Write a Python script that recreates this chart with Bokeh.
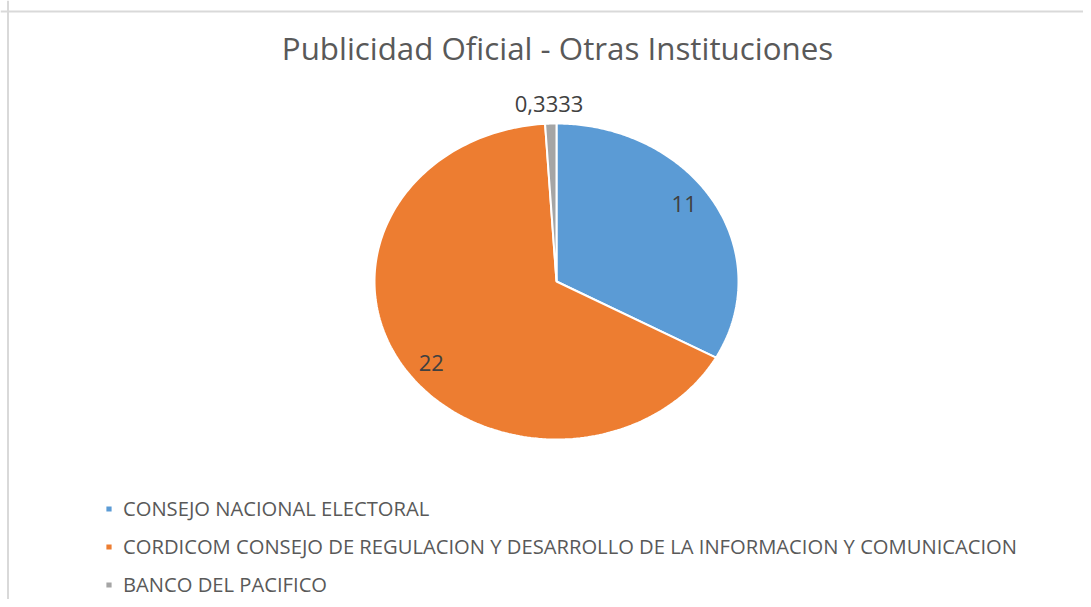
import numpy as np
from bokeh.plotting import figure
from bokeh.models import Range1d, ColumnDataSource, Label, Legend, LegendItem, Span
from bokeh.core.properties import value
from bokeh.embed import file_html
from bokeh.resources import INLINE

title_text = "Publicidad Oficial - Otras Instituciones"
categories = [
    "CONSEJO NACIONAL ELECTORAL",
    "CORDICOM CONSEJO DE REGULACION Y DESARROLLO DE LA INFORMACION Y COMUNICACION",
    "BANCO DEL PACIFICO",
]
values = [11, 22, 0.3333]
value_labels = ["11", "22", "0,3333"]
colors = ["#5B9BD5", "#ED7D31", "#A5A5A5"]

FONT = "Open Sans"
W, H = 1083, 599
p = figure(width=W, height=H, output_backend="svg", toolbar_location=None,
           x_range=Range1d(0, W), y_range=Range1d(H, 0),
           x_axis_type=None, y_axis_type=None, min_border=0)
p.grid.visible = False
p.outline_line_color = None
p.background_fill_color = "white"

# chart-area border (left and top visible in the reference)
p.add_layout(Span(location=7.5, dimension="height", line_color="#d9d9d9", line_width=2))
p.add_layout(Span(location=11, dimension="width", line_color="#d9d9d9", line_width=2))

# elliptical pie geometry
cx, cy, rx, ry = 556, 281, 182, 158
vals = np.array(values, dtype=float)
frac = vals / vals.sum()
ends = np.cumsum(frac) * 2 * np.pi
starts = ends - frac * 2 * np.pi
xs, ys = [], []
for a0, a1 in zip(starts, ends):
    t = np.linspace(a0, a1, 200)
    xs.append(np.concatenate([[cx], cx + rx * np.sin(t), [cx]]).tolist())
    ys.append(np.concatenate([[cy], cy - ry * np.cos(t), [cy]]).tolist())

src = ColumnDataSource(dict(xs=xs, ys=ys, color=colors, name=categories))
r = p.patches("xs", "ys", source=src, fill_color="color", line_color="white", line_width=2)

# data labels
mids = (starts + ends) / 2
outside = frac < 0.05
fx = np.where(outside, 1.3, 0.815)
fy = np.where(outside, 1.127, 0.965)
lx = cx + fx * rx * np.sin(mids)
ly = cy - fy * ry * np.cos(mids)
lsrc = ColumnDataSource(dict(x=lx, y=ly, t=value_labels))
p.text("x", "y", text="t", source=lsrc, text_align="center", text_baseline="middle",
       text_font=value(FONT), text_font_size="22px", text_color="#404040")

# title
p.add_layout(Label(x=557, y=47, text=title_text, text_align="center", text_baseline="middle",
                   text_font=FONT, text_font_size="31.3px", text_color="#595959"))

legend = Legend(items=[LegendItem(label=c, renderers=[r], index=i) for i, c in enumerate(categories)],
                location=(104, 1), orientation="vertical", padding=0, margin=0,
                border_line_color=None, background_fill_alpha=0,
                glyph_width=9, glyph_height=9, label_standoff=10, label_height=22, spacing=10,
                label_text_font=FONT, label_text_font_size="20.2px", label_text_color="#595959")
p.add_layout(legend)

open("out.html", "w").write(file_html(p, INLINE))
